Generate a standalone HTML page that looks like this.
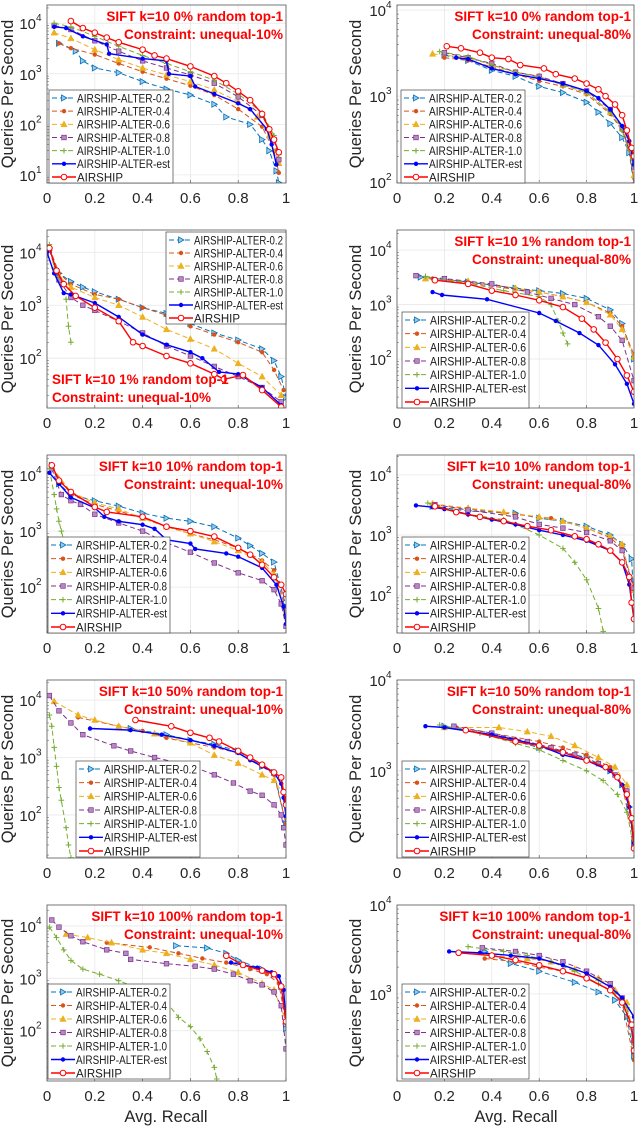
<!DOCTYPE html>
<html><head><meta charset="utf-8"><style>
body{margin:0;background:#fff}
svg{display:block;font-family:"Liberation Sans",Arial,sans-serif}
</style></head><body>
<svg id="fig" width="640" height="1127" viewBox="0 0 640 1127" xmlns="http://www.w3.org/2000/svg"></svg>
<script>
// ---- data: [avg recall, queries per second] ----
const p1A02=[[0.05,4000],[0.12,2800],[0.15,1800],[0.2,1300],[0.3,1050],[0.4,700],[0.5,500],[0.6,380],[0.7,250],[0.75,140],[0.85,100],[0.9,50],[0.93,30],[0.96,12],[0.97,7]];
const p1A04=[[0.05,4000],[0.1,3200],[0.2,2400],[0.3,1600],[0.4,1100],[0.5,800],[0.6,580],[0.7,380],[0.8,200],[0.9,90],[0.95,30],[0.97,11]];
const p1A06=[[0.03,6500],[0.1,5000],[0.2,3000],[0.3,1900],[0.4,1300],[0.5,950],[0.6,700],[0.7,480],[0.8,280],[0.88,140],[0.93,60],[0.97,17]];
const p1A08=[[0.03,9000],[0.1,7500],[0.2,4500],[0.3,2800],[0.4,1800],[0.5,1300],[0.6,950],[0.7,650],[0.8,350],[0.9,150],[0.95,50],[0.97,20]];
const p1A10=[[0.03,10000],[0.1,8500],[0.2,5500],[0.3,3500],[0.4,2300],[0.5,1600],[0.6,1100],[0.7,750],[0.8,400],[0.9,170],[0.95,60],[0.97,25]];
const p1Est=[[0.03,8500],[0.08,8000],[0.15,5500],[0.25,3800],[0.26,2500],[0.4,2000],[0.5,1800],[0.51,1000],[0.6,900],[0.62,560],[0.7,400],[0.8,260],[0.85,200],[0.92,80],[0.94,40],[0.96,16]];
const p1Air=[[0.1,11000],[0.15,8000],[0.2,6500],[0.25,5200],[0.3,4200],[0.4,3000],[0.45,2300],[0.5,2000],[0.6,1400],[0.7,900],[0.75,650],[0.8,450],[0.85,300],[0.9,160],[0.93,80],[0.95,50],[0.97,28]];

const p2A02=[[0.2,3000],[0.3,2600],[0.4,2000],[0.5,1700],[0.6,1300],[0.7,1100],[0.8,850],[0.85,650],[0.9,480],[0.95,330],[0.98,220],[1.0,90]];
const p2A04=[[0.2,2800],[0.3,2600],[0.4,2200],[0.5,1800],[0.6,1500],[0.7,1300],[0.8,1050],[0.9,620],[0.95,400],[0.98,250],[1.0,95]];
const p2A06=[[0.15,3100],[0.3,2800],[0.4,2300],[0.5,1900],[0.6,1700],[0.7,1350],[0.8,1100],[0.9,650],[0.95,420],[0.98,270],[1.0,120]];
const p2A08=[[0.2,3200],[0.3,2800],[0.4,2400],[0.5,1900],[0.6,1700],[0.7,1400],[0.8,1150],[0.9,700],[0.95,430],[1.0,150]];
const p2A10=[[0.18,3300],[0.3,2900],[0.4,2300],[0.5,1900],[0.6,1650],[0.7,1350],[0.8,1100],[0.9,650],[0.95,400],[1.0,150]];
const p2Est=[[0.25,2800],[0.3,2700],[0.4,2100],[0.5,1800],[0.6,1600],[0.7,1400],[0.8,1150],[0.85,950],[0.9,700],[0.95,450],[0.98,300],[1.0,160]];
const p2Air=[[0.21,3800],[0.27,3600],[0.35,3200],[0.4,2800],[0.47,2700],[0.52,2300],[0.62,2100],[0.67,1800],[0.75,1600],[0.8,1400],[0.85,1200],[0.88,1000],[0.92,800],[0.95,600],[0.97,400],[0.99,250],[1.0,200]];

const p3A02=[[0.01,12000],[0.05,4000],[0.1,2800],[0.15,2200],[0.2,1800],[0.3,1300],[0.4,900],[0.5,700],[0.6,450],[0.7,300],[0.8,220],[0.9,150],[0.95,90],[0.98,45],[1.0,18]];
const p3A04=[[0.01,12000],[0.05,4000],[0.1,2500],[0.2,1600],[0.3,1300],[0.4,900],[0.5,650],[0.6,400],[0.7,280],[0.8,200],[0.9,130],[0.95,60],[0.99,25]];
const p3A06=[[0.01,12000],[0.05,3500],[0.1,2200],[0.2,1400],[0.3,1000],[0.4,600],[0.5,350],[0.6,230],[0.7,150],[0.8,80],[0.9,45],[0.98,20]];
const p3A08=[[0.01,11000],[0.05,3000],[0.1,1400],[0.15,1000],[0.2,800],[0.3,500],[0.4,300],[0.5,170],[0.6,110],[0.7,70],[0.8,45],[0.9,28],[0.98,15]];
const p3A10=[[0.01,14000],[0.03,5000],[0.06,2500],[0.08,1300],[0.09,400],[0.1,200]];
const p3Est=[[0.0,10000],[0.03,4000],[0.07,1700],[0.1,1600],[0.2,1100],[0.3,600],[0.4,280],[0.5,180],[0.6,130],[0.65,100],[0.72,55],[0.8,50],[0.9,28],[0.98,13]];
const p3Air=[[0.01,12000],[0.04,4500],[0.07,2500],[0.12,1500],[0.2,900],[0.3,500],[0.36,200],[0.4,170],[0.5,110],[0.6,80],[0.7,50],[0.74,40],[0.82,48],[0.9,25],[0.98,12]];

const p4A02=[[0.1,3200],[0.3,2600],[0.5,2000],[0.6,1800],[0.7,1600],[0.8,1300],[0.9,800],[0.95,450],[1.0,100]];
const p4A04=[[0.15,3000],[0.3,2500],[0.5,1900],[0.6,1700],[0.7,1400],[0.8,1100],[0.9,700],[0.95,400],[1.0,120]];
const p4A06=[[0.12,3000],[0.3,2700],[0.5,2000],[0.6,1700],[0.7,1400],[0.8,1100],[0.9,650],[0.95,350],[1.0,110]];
const p4A08=[[0.08,3400],[0.2,3000],[0.4,2400],[0.55,1700],[0.65,1300],[0.75,1000],[0.85,600],[0.9,400],[0.95,220],[1.0,40]];
const p4A10=[[0.12,3300],[0.3,2500],[0.45,1800],[0.6,1400],[0.65,1000],[0.68,500],[0.7,300],[0.72,190]];
const p4Est=[[0.15,1700],[0.19,1500],[0.38,1250],[0.6,700],[0.67,500],[0.77,300],[0.85,180],[0.92,80],[0.97,35],[1.0,15]];
const p4Air=[[0.16,2800],[0.3,2400],[0.4,1800],[0.5,1500],[0.6,1200],[0.7,900],[0.78,550],[0.83,350],[0.88,200],[0.93,100],[0.97,50],[1.0,25]];

const p5A02=[[0.02,15000],[0.05,7000],[0.1,4500],[0.2,3500],[0.3,2800],[0.4,2100],[0.5,1700],[0.6,1500],[0.7,1200],[0.8,750],[0.85,550],[0.9,400],[0.95,280],[1.0,45]];
const p5A04=[[0.02,14000],[0.1,4500],[0.2,3000],[0.3,2300],[0.4,1700],[0.5,1200],[0.6,900],[0.7,700],[0.8,500],[0.9,300],[0.95,200],[1.0,40]];
const p5A06=[[0.02,14000],[0.1,5000],[0.2,3200],[0.3,2500],[0.4,1700],[0.5,1200],[0.6,900],[0.7,650],[0.8,450],[0.9,280],[0.95,170],[1.0,35]];
const p5A08=[[0.02,13000],[0.06,4500],[0.1,3500],[0.14,3000],[0.2,2000],[0.3,1400],[0.4,1000],[0.5,620],[0.6,420],[0.7,270],[0.8,180],[0.9,130],[0.95,90],[0.98,50],[1.0,20]];
const p5A10=[[0.01,13000],[0.03,4500],[0.04,2500],[0.05,1500],[0.06,1000],[0.07,700]];
const p5Est=[[0.01,11000],[0.05,7000],[0.1,4000],[0.2,2600],[0.24,1800],[0.3,1500],[0.4,1300],[0.45,1100],[0.5,700],[0.6,600],[0.62,480],[0.75,400],[0.8,350],[0.9,220],[0.96,110],[0.99,45],[1.0,22]];
const p5Air=[[0.02,15000],[0.05,8000],[0.1,5000],[0.2,2700],[0.25,2200],[0.4,1800],[0.5,1200],[0.6,1000],[0.7,800],[0.8,500],[0.85,380],[0.9,250],[0.95,150],[0.98,110],[1.0,75]];

const p6A02=[[0.15,3000],[0.3,2500],[0.5,2300],[0.6,1900],[0.7,1700],[0.8,1400],[0.9,1000],[0.95,700],[0.99,400],[1.0,75]];
const p6A04=[[0.15,3200],[0.3,2700],[0.5,2200],[0.65,1900],[0.8,1300],[0.9,900],[0.95,600],[1.0,140]];
const p6A06=[[0.15,3300],[0.3,2800],[0.45,2400],[0.6,2000],[0.7,1700],[0.8,1300],[0.9,950],[0.95,700],[1.0,120]];
const p6A08=[[0.16,3200],[0.3,2600],[0.5,2000],[0.6,1500],[0.7,1300],[0.8,1100],[0.9,800],[0.95,550],[1.0,130]];
const p6A10=[[0.13,3400],[0.3,2200],[0.45,1800],[0.5,1500],[0.6,1000],[0.7,600],[0.75,350],[0.8,180],[0.85,60],[0.87,25]];
const p6Est=[[0.08,3100],[0.15,2900],[0.2,2700],[0.3,2200],[0.4,1800],[0.5,1500],[0.6,1200],[0.7,1000],[0.8,800],[0.9,550],[0.95,350],[0.98,150],[1.0,40]];
const p6Air=[[0.16,3000],[0.25,2400],[0.35,2000],[0.45,1700],[0.55,1400],[0.65,1200],[0.75,950],[0.8,850],[0.85,700],[0.9,550],[0.95,350],[0.98,200],[0.99,75],[1.0,40]];

const p7A02=[[0.35,3200],[0.5,2500],[0.6,2000],[0.7,1700],[0.8,1300],[0.9,700],[0.95,550],[1.0,70]];
const p7A04=[[0.13,5000],[0.3,3500],[0.4,2900],[0.5,2200],[0.6,1800],[0.7,1500],[0.8,1200],[0.9,700],[0.95,500],[1.0,70]];
const p7A06=[[0.03,9500],[0.13,5500],[0.2,4500],[0.3,3500],[0.45,2600],[0.6,1800],[0.7,1100],[0.8,800],[0.9,500],[0.95,400],[1.0,200]];
const p7A08=[[0.01,12000],[0.05,6500],[0.1,4000],[0.15,2500],[0.28,1600],[0.35,1300],[0.45,1000],[0.6,720],[0.7,500],[0.78,360],[0.85,260],[0.9,220],[0.95,150],[0.98,100],[0.99,60],[1.0,30]];
const p7A10=[[0.01,5500],[0.02,3500],[0.03,1500],[0.04,700],[0.05,300],[0.06,180],[0.08,60],[0.09,30],[0.1,18]];
const p7Est=[[0.18,3200],[0.35,3000],[0.48,2500],[0.6,2000],[0.7,1600],[0.8,1200],[0.85,900],[0.9,700],[0.95,550],[0.98,350],[0.99,200],[1.0,95]];
const p7Air=[[0.37,4500],[0.52,3500],[0.6,2700],[0.68,2200],[0.72,1900],[0.8,1300],[0.85,1000],[0.9,750],[0.95,550],[0.98,450],[0.99,250],[1.0,150]];

const p8A02=[[0.2,3100],[0.4,2500],[0.6,1800],[0.7,1600],[0.8,1400],[0.9,1000],[0.95,700],[0.98,400],[1.0,160]];
const p8A04=[[0.25,3000],[0.4,2600],[0.6,2100],[0.7,1800],[0.8,1500],[0.9,1100],[0.95,700],[1.0,170]];
const p8A06=[[0.2,3000],[0.43,3000],[0.55,2700],[0.65,2400],[0.75,1900],[0.85,1400],[0.92,1100],[0.97,700],[1.0,200]];
const p8A08=[[0.24,3100],[0.4,2600],[0.55,2100],[0.65,1800],[0.75,1500],[0.85,1200],[0.92,900],[0.97,600],[1.0,180]];
const p8A10=[[0.18,3200],[0.35,2600],[0.5,2000],[0.6,1700],[0.7,1300],[0.8,1000],[0.87,780],[0.93,550],[0.97,350],[1.0,140]];
const p8Est=[[0.12,3100],[0.2,3000],[0.4,2500],[0.5,2200],[0.6,1900],[0.7,1500],[0.8,1300],[0.9,1000],[0.95,700],[0.98,400],[1.0,160]];
const p8Air=[[0.29,2800],[0.5,2100],[0.6,1900],[0.7,1600],[0.8,1300],[0.88,1100],[0.93,850],[0.97,550],[0.99,300],[1.0,140]];

const p9A02=[[0.54,4200],[0.67,3800],[0.75,3000],[0.8,2200],[0.9,1500],[0.95,1200],[0.98,700],[1.0,110]];
const p9A04=[[0.25,4800],[0.43,3900],[0.55,3000],[0.65,2400],[0.75,2000],[0.85,1500],[0.92,1200],[0.97,800],[1.0,140]];
const p9A06=[[0.08,7000],[0.17,6000],[0.27,4800],[0.4,3500],[0.5,3000],[0.6,2300],[0.7,1800],[0.8,1300],[0.9,800],[0.95,600],[1.0,150]];
const p9A08=[[0.02,13000],[0.05,9500],[0.1,6500],[0.15,5000],[0.25,3500],[0.33,3000],[0.35,2300],[0.5,1900],[0.62,1700],[0.7,1500],[0.78,1200],[0.85,900],[0.9,750],[0.95,550],[0.98,300],[1.0,45]];
const p9A10=[[0.01,9500],[0.04,6000],[0.07,3500],[0.1,2200],[0.15,1500],[0.22,1200],[0.3,900],[0.4,600],[0.5,350],[0.55,180],[0.6,120],[0.64,70],[0.67,40],[0.7,20],[0.71,12]];
const p9Est=[[0.77,2000],[0.82,1800],[0.88,1600],[0.94,1300],[0.97,1100],[0.99,600],[1.0,150]];
const p9Air=[[0.75,2700],[0.82,1800],[0.9,1400],[0.95,1200],[0.98,700],[1.0,150]];

const p10A02=[[0.37,3000],[0.48,2200],[0.6,1800],[0.75,1350],[0.85,1050],[0.92,850],[0.97,550],[1.0,200]];
const p10A04=[[0.37,2500],[0.5,2300],[0.6,2000],[0.7,1800],[0.8,1500],[0.9,1100],[0.95,800],[1.0,180]];
const p10A06=[[0.4,2700],[0.55,2500],[0.65,2300],[0.75,1900],[0.85,1500],[0.92,1100],[0.97,800],[1.0,300]];
const p10A08=[[0.36,3300],[0.5,3000],[0.6,2700],[0.7,2300],[0.8,1800],[0.9,1300],[0.95,900],[1.0,300]];
const p10A10=[[0.3,3400],[0.45,3000],[0.55,2700],[0.65,2300],[0.75,1800],[0.85,1300],[0.92,1000],[0.97,700],[1.0,250]];
const p10Est=[[0.22,3000],[0.35,2900],[0.48,2700],[0.6,2500],[0.7,2100],[0.8,1700],[0.9,1200],[0.95,900],[1.0,550],[1.0,230]];
const p10Air=[[0.26,2900],[0.4,2700],[0.5,2400],[0.6,2100],[0.7,1800],[0.8,1500],[0.9,1100],[0.95,800],[0.99,450],[1.0,230]];

const xTicks=[0,0.2,0.4,0.6,0.8,1];
const xTickLabels=["0","0.2","0.4","0.6","0.8","1"];
const seriesNames=["AIRSHIP-ALTER-0.2","AIRSHIP-ALTER-0.4","AIRSHIP-ALTER-0.6","AIRSHIP-ALTER-0.8","AIRSHIP-ALTER-1.0","AIRSHIP-ALTER-est","AIRSHIP"];
const panelPcts=["0%","0%","1%","1%","10%","10%","50%","50%","100%","100%"];
const panelCons=["10%","80%","10%","80%","10%","80%","10%","80%","10%","80%"];
const panelLogMin=[0.84,1.99,1.06,1.1,1.18,1.37,1.25,2.04,1.04,2.02];
const panelLogMax=[4.36,4.06,4.42,4.37,4.36,4.33,4.35,4.0,4.4,4.0];

const panelSeries=[
 [p1A02,p1A04,p1A06,p1A08,p1A10,p1Est,p1Air],[p2A02,p2A04,p2A06,p2A08,p2A10,p2Est,p2Air],
 [p3A02,p3A04,p3A06,p3A08,p3A10,p3Est,p3Air],[p4A02,p4A04,p4A06,p4A08,p4A10,p4Est,p4Air],
 [p5A02,p5A04,p5A06,p5A08,p5A10,p5Est,p5Air],[p6A02,p6A04,p6A06,p6A08,p6A10,p6Est,p6Air],
 [p7A02,p7A04,p7A06,p7A08,p7A10,p7Est,p7Air],[p8A02,p8A04,p8A06,p8A08,p8A10,p8Est,p8Air],
 [p9A02,p9A04,p9A06,p9A08,p9A10,p9Est,p9Air],[p10A02,p10A04,p10A06,p10A08,p10A10,p10Est,p10Air]];

// ---- styles / layout ----
const colors=["#0072BD","#D95319","#EDB120","#7E2F8E","#77AC30","#0000FF","#FF0000"];
const marks=["tri","dot","triup","sq","plus","dot","circ"];
const dashes=["5,3","5,3","5,3","5,3","5,3","",""];
const widths=[1,1,1,1,1,1.4,1.4];
const legendBoxes=[[49,90,124,93],[401,90,124,93],[166,232,120,92],[402,312,127,96],[48,537,122,96],[402,537,127,96],[76,761,124,96],[402,761,127,96],[48,984,122,95],[402,984,127,95]];

const NS="http://www.w3.org/2000/svg";
const svg=document.getElementById('fig');
function mk(tag,attrs,parent){const e=document.createElementNS(NS,tag);for(const k in attrs)e.setAttribute(k,attrs[k]);(parent||svg).appendChild(e);return e;}

function marker(g,type,x,y,c){
  let e;
  if(type==="tri") e=mk('polygon',{points:`${x-2.5},${y-3} ${x+3},${y} ${x-2.5},${y+3}`,fill:"#9cc7e6",stroke:c,'stroke-width':0.8},g);
  else if(type==="triup") e=mk('polygon',{points:`${x},${y-3.5} ${x+3.2},${y+2.5} ${x-3.2},${y+2.5}`,fill:c,stroke:c,'stroke-width':0.5},g);
  else if(type==="sq") e=mk('rect',{x:x-2.3,y:y-2.3,width:4.6,height:4.6,fill:"#b48ac0",stroke:c,'stroke-width':0.7},g);
  else if(type==="plus") e=mk('path',{d:`M${x-2.8},${y}H${x+2.8}M${x},${y-2.8}V${y+2.8}`,stroke:c,'stroke-width':1},g);
  else if(type==="dot") e=mk('circle',{cx:x,cy:y,r:2.2,fill:c},g);
  else e=mk('circle',{cx:x,cy:y,r:2.8,fill:"#fff",stroke:c,'stroke-width':1},g);
  
  
}

for(let p=0;p<10;p++){
  const col=p%2,row=Math.floor(p/2);
  const L=col?397:47,R=col?634:286;
  const T=row*225+5, B=row===4?1081:row*225+183;
  const lo=panelLogMin[p],hi=panelLogMax[p];
  const xs=v=>L+v*(R-L);
  const ys=v=>B-(Math.log10(v)-lo)/(hi-lo)*(B-T);
  const g=mk('g',{});
  
  
  mk('rect',{x:L,y:T,width:R-L,height:B-T,fill:"#fff"},g);
  xTicks.forEach((t,i)=>{
    const gl=mk('line',{x1:xs(t),x2:xs(t),y1:T,y2:B,stroke:"#e8e8e8",'stroke-width':0.8},g);
    
    
    const tk=mk('line',{x1:xs(t),x2:xs(t),y1:B,y2:B-3,stroke:"#444",'stroke-width':0.6},g);
    
    
    const tl=mk('text',{x:xs(t),y:B+20,'font-size':15,'text-anchor':'middle',fill:"#262626"},g);
    tl.textContent=xTickLabels[i];
    
    
  });
  for(let d=Math.ceil(lo);d<=Math.floor(hi+0.001);d++){
    const y=ys(Math.pow(10,d));
    const gl=mk('line',{x1:L,x2:R,y1:y,y2:y,stroke:"#e8e8e8",'stroke-width':0.8},g);
    
    
    const tl=mk('text',{x:L-11,y:y+6,'font-size':15,'text-anchor':'end',fill:"#262626"},g);
    tl.textContent="10";
    
    
    const sp=mk('text',{x:L-11,y:y-2,'font-size':10,'text-anchor':'start',fill:"#262626"},g);
    sp.textContent=String(d);
    
    
  }
  for(let d=Math.floor(lo);d<=Math.ceil(hi);d++){for(let m=2;m<10;m++){const v=m*Math.pow(10,d);const lv=Math.log10(v);if(lv<lo||lv>hi)continue;const y=ys(v);
    const mt=mk('line',{x1:L,x2:L+2,y1:y,y2:y,stroke:"#555",'stroke-width':0.5},g);
    
    }}
  const clipId='clip'+p;
  const cp=mk('clipPath',{id:clipId},g);mk('rect',{x:L,y:T,width:R-L,height:B-T},cp);
  const sg=mk('g',{'clip-path':`url(#${clipId})`},g);
  panelSeries[p].forEach((arr,si)=>{
    const s=mk('g',{},sg);
    
    
    const pts=arr.map(a=>xs(a[0]).toFixed(1)+','+ys(a[1]).toFixed(1)).join(' ');
    const pl=mk('polyline',{points:pts,fill:'none',stroke:colors[si],'stroke-width':widths[si],'stroke-dasharray':dashes[si]||'none'},s);
    
    
    arr.forEach(a=>marker(s,marks[si],xs(a[0]),ys(a[1]),colors[si]));
  });
  const ax=mk('rect',{x:L,y:T,width:R-L,height:B-T,fill:'none',stroke:"#555",'stroke-width':0.8},g);
  
  
  const yl=mk('text',{x:0,y:0,'font-size':16.5,'text-anchor':'middle',fill:"#262626",transform:`translate(${col?361:13},${(T+B)/2}) rotate(-90)`},g);
  yl.textContent="Queries Per Second";
  
  
  const bottomLeft=(p===2);
  const tx=bottomLeft?L+5:R-3, anchor=bottomLeft?'start':'end';
  const ty1=bottomLeft?B-24:T+16, ty2=bottomLeft?B-6:T+34;
  const t1=mk('text',{x:tx,y:ty1,'font-size':13.5,'font-weight':'bold','text-anchor':anchor,fill:"#FF0000"},g);
  t1.textContent=`SIFT k=10 ${panelPcts[p]} random top-1`;
  
  
  const t2=mk('text',{x:tx,y:ty2,'font-size':13.5,'font-weight':'bold','text-anchor':anchor,fill:"#FF0000"},g);
  t2.textContent=`Constraint: unequal-${panelCons[p]}`;
  
  
  const [lx,ly,lw,lh]=legendBoxes[p];
  const lg=mk('g',{},g);
  
  
  mk('rect',{x:lx,y:ly,width:lw,height:lh,fill:'#fff',stroke:'#444','stroke-width':0.7},lg);
  const step=(lh-14)/6;
  seriesNames.forEach((n,si)=>{
    const ey=ly+8+si*step;
    const en=mk('g',{},lg);
    
    
    mk('line',{x1:lx+3,x2:lx+27,y1:ey,y2:ey,stroke:colors[si],'stroke-width':widths[si],'stroke-dasharray':dashes[si]||'none'},en);
    marker(en,marks[si],lx+15,ey,colors[si]);
    const attrs={x:lx+28,y:ey+4.3,'font-size':11.5,fill:'#1a1a1a'};
    if(si<6){attrs.textLength=lw-31;attrs.lengthAdjust='spacingAndGlyphs';}
    const tt=mk('text',attrs,en);
    tt.textContent=n;
  });
}
[[166,"x-axis-title-left"],[516,"x-axis-title-right"]].forEach(([x,n])=>{
  const t=mk('text',{x:x,y:1122,'font-size':16.5,'text-anchor':'middle',fill:'#262626'});
  t.textContent="Avg. Recall";
  
  
});
</script>
</body></html>
